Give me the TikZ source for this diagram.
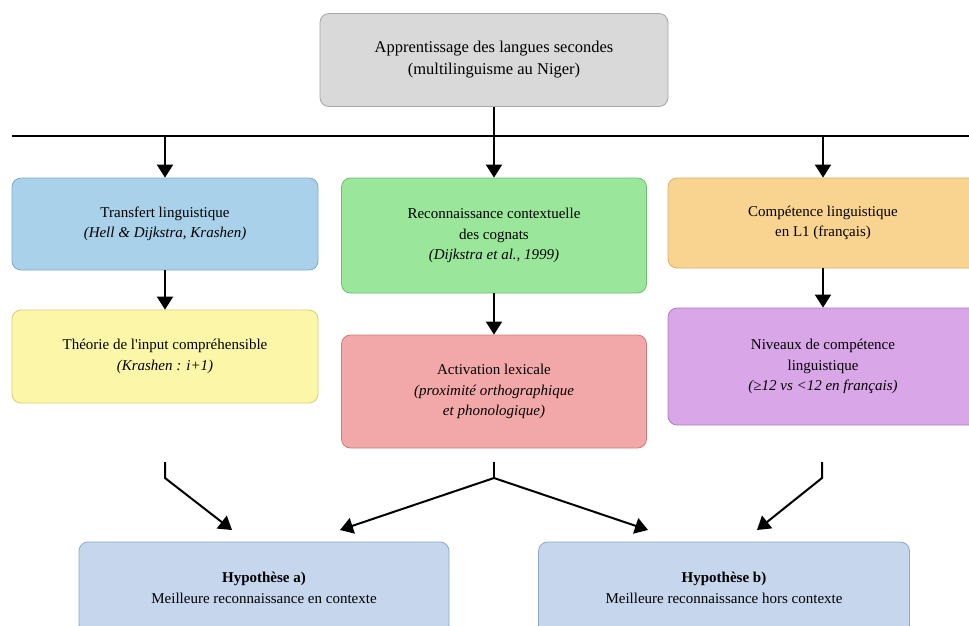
\documentclass[tikz,border=0pt]{standalone}
\usepackage{fontspec}
\setmainfont{Liberation Serif}
\usetikzlibrary{arrows.meta}
\definecolor{grayF}{HTML}{D9D9D9}\definecolor{grayD}{HTML}{A6A6A6}
\definecolor{blueF}{HTML}{A9D1EA}\definecolor{blueD}{HTML}{7FAACB}
\definecolor{yelF}{HTML}{FCF7A8}\definecolor{yelD}{HTML}{D8D070}
\definecolor{greenF}{HTML}{9AE69A}\definecolor{greenD}{HTML}{6DBF6D}
\definecolor{redF}{HTML}{F2A8A8}\definecolor{redD}{HTML}{D07B7B}
\definecolor{oraF}{HTML}{F9D490}\definecolor{oraD}{HTML}{D8B063}
\definecolor{purF}{HTML}{D9A6E8}\definecolor{purD}{HTML}{AF7DC6}
\definecolor{hypF}{HTML}{C6D6EC}\definecolor{hypD}{HTML}{8FA8C9}
\begin{document}
\begin{tikzpicture}[x=1pt,y=-1pt,
 box/.style={draw, rounded corners=9pt, line width=0.8pt, align=center, inner sep=0pt, font=\fontsize{15}{20.5}\selectfont, text=black},
 arr/.style={line width=2pt, -{Triangle[length=13pt,width=16pt]}},
 ln/.style={line width=2pt},
]
\path[use as bounding box] (0,0) rectangle (969,625);
\fill[white] (0,0) rectangle (969,625);
\clip (0,0) rectangle (969,625);
% boxes
\node[box, fill=grayF, draw=grayD, minimum width=348pt, minimum height=93pt, font=\fontsize{16.5}{22}\selectfont] (top) at (494,60) {Apprentissage des langues secondes\\(multilinguisme au Niger)};
\node[box, fill=blueF, draw=blueD, minimum width=306pt, minimum height=92pt] (blue) at (165,224) {Transfert linguistique\\\textit{(Hell \& Dijkstra, Krashen)}};
\node[box, fill=yelF, draw=yelD, minimum width=306pt, minimum height=93pt] (yel) at (165,356.5) {Théorie de l\textquotesingle input compréhensible\\\textit{(Krashen : i+1)}};
\node[box, fill=greenF, draw=greenD, minimum width=305pt, minimum height=115pt] (green) at (494,235.5) {Reconnaissance contextuelle\\des cognats\\\textit{(Dijkstra et al., 1999)}};
\node[box, fill=redF, draw=redD, minimum width=305pt, minimum height=113pt] (red) at (494,391.5) {Activation lexicale\\\textit{(proximité orthographique}\\\textit{et phonologique)}};
\node[box, fill=oraF, draw=oraD, minimum width=310pt, minimum height=90pt] (ora) at (823,223) {Compétence linguistique\\en L1 (français)};
\node[box, fill=purF, draw=purD, minimum width=310pt, minimum height=117pt] (pur) at (823,366.5) {Niveaux de compétence\\linguistique\\\textit{(≥12 vs <12 en français)}};
\node[box, fill=hypF, draw=hypD, minimum width=370pt, minimum height=92pt] (ha) at (264,588) {\textbf{Hypothèse a)}\\Meilleure reconnaissance en contexte};
\node[box, fill=hypF, draw=hypD, minimum width=371pt, minimum height=92pt] (hb) at (724,588) {\textbf{Hypothèse b)}\\Meilleure reconnaissance hors contexte};
% top distribution
\coordinate (hl) at (12,136);
\coordinate (hr) at (975,136);
\draw[line width=2.2pt] (hl) -- (hr);
\draw[arr] (top.south) -- (green.north);
\draw[arr] (blue.north |- hl) -- (blue.north);
\draw[arr] (ora.north |- hl) -- (ora.north);
% column arrows
\draw[arr] (blue.south) -- (yel.north);
\draw[arr] (green.south) -- (red.north);
\draw[arr] (ora.south) -- (pur.north);
% bottom connectors
\coordinate (l1) at (165,462); \coordinate (l2) at (165,478); \coordinate (la) at (232,530);
\coordinate (m1) at (494,462); \coordinate (m2) at (494,478); \coordinate (ma) at (340,530); \coordinate (mb) at (648,530);
\coordinate (r1) at (822,462); \coordinate (r2) at (822,478); \coordinate (ra) at (757,530);
\draw[arr] (l1) -- (l2) -- (la);
\draw[ln] (m1) -- (m2);
\draw[arr] (m2) -- (ma);
\draw[arr] (m2) -- (mb);
\draw[arr] (r1) -- (r2) -- (ra);
\end{tikzpicture}
\end{document}
